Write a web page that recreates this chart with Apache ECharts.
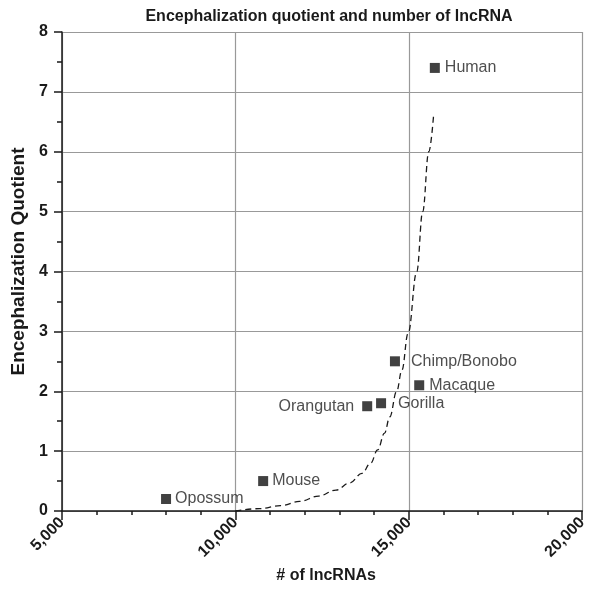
<!DOCTYPE html>
<html>
<head>
<meta charset="utf-8">
<script src="https://cdn.jsdelivr.net/npm/echarts@6/dist/echarts.min.js"></script>
<style>
html,body{margin:0;padding:0;background:#fff;}
#chart{width:590px;height:594px;}
</style>
</head>
<body>
<div id="chart"></div>
<script>
var titleText = 'Encephalization quotient and number of lncRNA';
var xAxisName = '# of lncRNAs';
var yAxisName = 'Encephalization Quotient';

var species = ['Opossum', 'Mouse', 'Orangutan', 'Gorilla', 'Chimp/Bonobo', 'Macaque', 'Human'];
var lncRNAs = [8000, 10800, 13800, 14200, 14600, 15300, 15750];
var eqValues = [0.2, 0.5, 1.75, 1.8, 2.5, 2.1, 7.4];
var labelSide = ['right', 'right', 'left', 'right', 'right', 'right', 'right'];
var labelGap = [4, 4, 8, 12, 11, 5, 5];

var trendX = [10000, 10700, 11300, 11850, 12400, 12900, 13300, 13650, 13900, 14100, 14300, 14450, 14650, 14800, 14980, 15230, 15400, 15575, 15720];
var trendY = [0.0, 0.04, 0.09, 0.16, 0.25, 0.35, 0.47, 0.63, 0.8, 1.02, 1.3, 1.57, 2.0, 2.35, 2.97, 4.0, 5.0, 6.0, 6.65];

var FONT = '"Liberation Sans", Arial, Helvetica, sans-serif';
var chart = echarts.init(document.getElementById('chart'), null, {renderer: 'canvas'});

var pointData = species.map(function (n, i) {
  return {
    name: n,
    value: [lncRNAs[i], eqValues[i]],
    label: {position: labelSide[i], distance: labelGap[i]}
  };
});
var trendData = trendX.map(function (x, i) { return [x, trendY[i]]; });

chart.setOption({
  animation: false,
  backgroundColor: '#fff',
  title: {
    text: titleText,
    left: 324, top: 4, textAlign: 'center',
    textStyle: {fontFamily: FONT, fontSize: 16, fontWeight: 'bold', color: '#1a1a1a'}
  },
  grid: {left: 62, right: 6, top: 32, bottom: 83},
  xAxis: {
    type: 'value', min: 5000, max: 20000, interval: 5000,
    name: xAxisName, nameLocation: 'middle', nameGap: 48,
    nameTextStyle: {fontFamily: FONT, fontSize: 16, fontWeight: 'bold', color: '#1a1a1a', padding: [0, 0, 0, 8]},
    axisLine: {show: true, onZero: false, lineStyle: {color: '#1a1a1a', width: 1.5}},
    axisTick: {show: true, length: 9, lineStyle: {color: '#1a1a1a', width: 1.5}},
    minorTick: {show: true, splitNumber: 5, length: 4, lineStyle: {color: '#1a1a1a', width: 1.5}},
    splitLine: {show: true, lineStyle: {color: '#999', width: 1.2}},
    axisLabel: {
      rotate: 45, margin: 9, fontFamily: FONT, fontSize: 16, fontWeight: 'bold', color: '#1a1a1a',
      formatter: function (v) { return v.toLocaleString('en-US'); }
    }
  },
  yAxis: {
    type: 'value', min: 0, max: 8, interval: 1,
    name: yAxisName, nameLocation: 'middle', nameGap: 34, nameRotate: 90,
    nameTextStyle: {fontFamily: FONT, fontSize: 19, fontWeight: 'bold', color: '#1a1a1a', padding: [0, 0, 0, 20]},
    axisLine: {show: true, onZero: false, lineStyle: {color: '#1a1a1a', width: 1.5}},
    axisTick: {show: true, length: 8, lineStyle: {color: '#1a1a1a', width: 1.5}},
    minorTick: {show: true, splitNumber: 2, length: 5, lineStyle: {color: '#1a1a1a', width: 1.5}},
    splitLine: {show: true, lineStyle: {color: '#999', width: 1.2}},
    axisLabel: {margin: 14, fontFamily: FONT, fontSize: 16, fontWeight: 'bold', color: '#1a1a1a'}
  },
  series: [
    {
      type: 'line', data: trendData, smooth: 0.4, smoothMonotone: 'x',
      showSymbol: false, symbol: 'none',
      lineStyle: {color: '#1a1a1a', width: 1.3, type: [6, 4]},
      z: 2
    },
    {
      type: 'scatter', data: pointData, symbol: 'rect', symbolSize: 10,
      itemStyle: {color: '#111'},
      label: {
        show: true, formatter: '{b}',
        fontFamily: FONT, fontSize: 16, color: '#222'
      },
      z: 3
    }
  ]
});
</script>
</body>
</html>
